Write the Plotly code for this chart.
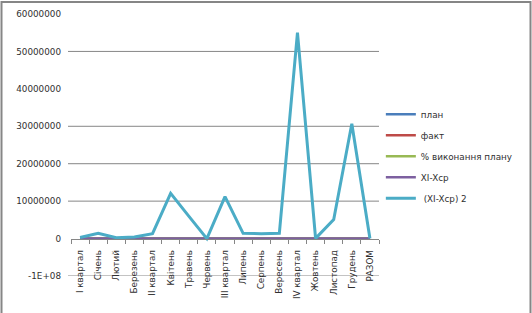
import plotly.graph_objects as go

categories = ["I квартал", "Січень", "Лютий", "Березень", "II квартал", "Квітень",
              "Травень", "Червень", "III квартал", "Липень", "Серпень", "Вересень",
              "IV квартал", "Жовтень", "Листопад", "Грудень", "РАЗОМ"]

plan = [300, 100, 100, 100, 300, 100, 100, 100, 300, 100, 100, 100, 300, 100, 100, 100, 1200]
fact = [280, 90, 95, 95, 290, 95, 90, 100, 290, 95, 95, 100, 300, 95, 100, 105, 1160]
percent = [93, 90, 95, 95, 97, 95, 90, 100, 97, 95, 95, 100, 100, 95, 100, 105, 97]
xi_xcp = [0, 0, 0, 0, 0, 0, 0, 0, 0, 0, 0, 0, 0, 0, 0, 0, 0]
xi_xcp_sq = [300000, 1400000, 200000, 400000, 1300000, 12100000, 6000000, 0,
             11200000, 1400000, 1300000, 1400000, 55000000, 50000, 5100000,
             30700000, 0]

series_names = ["план", "факт", "% виконання плану", "XI-Xcp", " (XI-Xcp) 2"]
series_colors = ["#4A7EBB", "#BE4B48", "#98B954", "#7D60A0", "#4BACC6"]
series_widths = [2.5, 2.5, 2.5, 2.5, 3]

y_tick_vals = [60000000, 50000000, 40000000, 30000000, 20000000, 10000000, 0, -10000000]
y_tick_text = ["60000000", "50000000", "40000000", "30000000", "20000000", "10000000", "0", "-1E+08"]
grid_vals = [50000000, 30000000, 20000000, 10000000, -10000000]

FONT = "DejaVu Sans"
FS = 8.8
TXT = "#303030"
GRID = "#868686"

fig = go.Figure()
for name, vals, col, w in zip(series_names, [plan, fact, percent, xi_xcp, xi_xcp_sq],
                              series_colors, series_widths):
    fig.add_trace(go.Scatter(x=categories, y=vals, mode="lines", name=name,
                             line=dict(color=col, width=w), legendgroup=name))

L, R, T, B = 71, 153, 13.5, 37
W, H = 532, 313
pw, ph = W - L - R, H - T - B

for g in grid_vals:
    fig.add_shape(type="line", xref="paper", yref="y", x0=-3 / pw, x1=1, y0=g, y1=g,
                  line=dict(color=GRID, width=1), layer="below")

# chart frame
fig.add_shape(type="rect", xref="paper", yref="paper",
              x0=(1.5 - L) / pw, x1=(530.5 - L) / pw,
              y0=(H - B - 330) / ph, y1=(H - B - 1.5) / ph,
              line=dict(color=GRID, width=2), layer="below")

fig.update_layout(
    width=W, height=H,
    margin=dict(l=L, r=R, t=T, b=B, autoexpand=False),
    paper_bgcolor="white", plot_bgcolor="white",
    font=dict(family=FONT, size=FS, color=TXT),
    showlegend=True,
    legend=dict(x=1.006, xanchor="left", y=0.457, yanchor="middle",
                font=dict(family=FONT, size=FS, color=TXT),
                itemwidth=30, tracegroupgap=2, bgcolor="rgba(0,0,0,0)"),
    xaxis=dict(type="category", anchor="free", position=10 / 70,
               showgrid=False, showline=True, linecolor=GRID, linewidth=1,
               ticks="outside", tickson="boundaries", ticklen=4, tickcolor=GRID,
               tickangle=-90, ticklabelstandoff=7,
               tickfont=dict(family=FONT, size=FS, color=TXT),
               range=[-0.5, len(categories) - 0.5], zeroline=False),
    yaxis=dict(range=[-10000000, 60000000], tickvals=y_tick_vals, ticktext=y_tick_text,
               showgrid=False, zeroline=False, showline=False, ticks="",
               ticklabelstandoff=9,
               tickfont=dict(family=FONT, size=FS, color=TXT)),
)

fig.write_html("out.html")
